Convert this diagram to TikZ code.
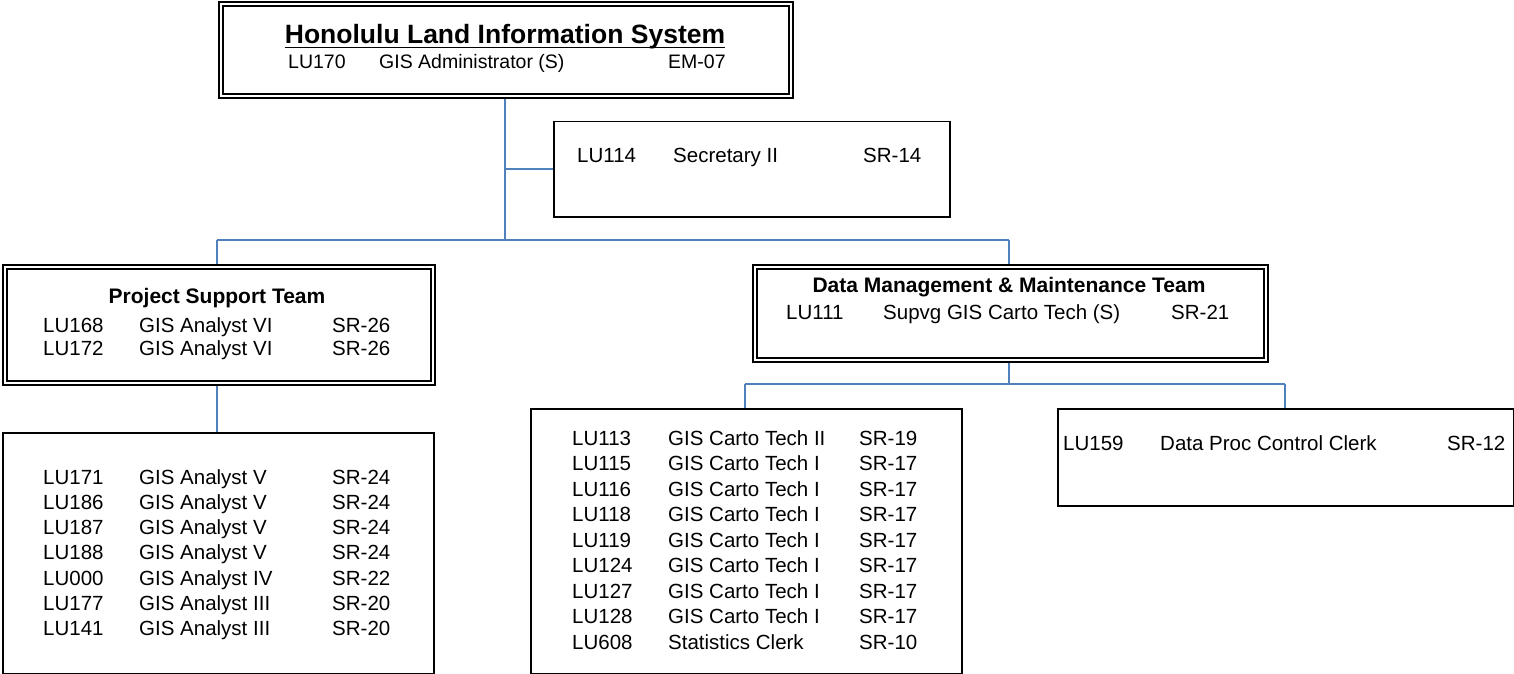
\documentclass[tikz,border=0pt]{standalone}
\usepackage{fontspec}
\setmainfont{Liberation Sans}
\definecolor{linkblue}{RGB}{79,129,189}
\newcommand\bodyfont{\fontsize{20.5}{24}\selectfont}
\newcommand\smallbodyfont{\fontsize{19.5}{23}\selectfont}
\newcommand\headfont{\fontsize{21}{25}\selectfont\bfseries}
\newcommand\bigheadfont{\fontsize{26.5}{30}\selectfont\bfseries}
\begin{document}
\begin{tikzpicture}[x=1pt,y=-1pt,
  box/.style={draw=black,line width=1.5pt,inner sep=0pt,anchor=north west},
  dbox/.style={draw=black,line width=2pt,inner sep=0pt,anchor=north west},
  innerline/.style={draw=black,line width=1.2pt},
  conn/.style={draw=linkblue,line width=1.8pt},
  txt/.style={anchor=base west,inner sep=0pt,font=\bodyfont},
  stxt/.style={anchor=base west,inner sep=0pt,font=\smallbodyfont},
  ttl/.style={anchor=base,inner sep=0pt,font=\headfont},
  bigttl/.style={anchor=base,inner sep=0pt,font=\bigheadfont}]
\useasboundingbox (0,0) rectangle (1514,674);
\fill[white] (0,0) rectangle (1514,674);

% ---------- boxes ----------
\node[dbox,minimum width=574pt,minimum height=96pt] (top) at (218,1) {};
\draw[innerline] ([shift={(5pt,-5pt)}]top.north west) rectangle ([shift={(-5pt,5pt)}]top.south east);

\node[box,minimum width=396pt,minimum height=95pt] (sec) at (553,121) {};

\node[dbox,minimum width=432pt,minimum height=120pt] (pst) at (2,264) {};
\draw[innerline] ([shift={(5pt,-5pt)}]pst.north west) rectangle ([shift={(-5pt,5pt)}]pst.south east);

\node[dbox,minimum width=515pt,minimum height=97pt] (dmm) at (752,264) {};
\draw[innerline] ([shift={(5pt,-5pt)}]dmm.north west) rectangle ([shift={(-5pt,5pt)}]dmm.south east);

\node[box,minimum width=431pt,minimum height=241pt] (psub) at (2,432) {};
\node[box,minimum width=431pt,minimum height=265pt] (dsub) at (530,408) {};
\node[box,minimum width=456pt,minimum height=97pt] (dpc) at (1057,408) {};

% ---------- connectors ----------
\coordinate (hbar) at (505,240);
\coordinate (lbar) at (1009,384);
\coordinate (hl) at (217,240);
\coordinate (hr) at (1009,240);
\coordinate (ll) at (745,384);
\coordinate (lr) at (1285,384);
\draw[conn] (top.south -| hbar) -- (hbar);
\draw[conn] (sec.west -| hbar) -- (sec.west);
\draw[conn] (hl) -- (hr);
\draw[conn] (hl) -- (hl |- pst.north);
\draw[conn] (hr) -- (hr |- dmm.north);
\draw[conn] (pst.south -| hl) -- (hl |- psub.north);
\draw[conn] (dmm.south -| lbar) -- (lbar);
\draw[conn] (ll) -- (lr);
\draw[conn] (ll) -- (ll |- dsub.north);
\draw[conn] (lr) -- (lr |- dpc.north);

% ---------- top box text ----------
\node[bigttl] (toptitle) at (505,44) {Honolulu Land Information System};
\draw[black,line width=1.8pt] ([yshift=-3.5pt]toptitle.base west) -- ([yshift=-3.5pt]toptitle.base east);
\node[stxt] (topa) at (288,69) {LU170};
\node[stxt] (topb) at (379,69) {GIS Administrator (S)};
\node[stxt] (topc) at (668,69) {EM-07};

% ---------- secretary ----------
\node[txt] (seca) at (577,162) {LU114};
\node[txt] (secb) at (673,162) {Secretary II};
\node[txt] (secc) at (863,162) {SR-14};

% ---------- project support team ----------
\node[ttl] (psttl) at (217,303) {Project Support Team};
\foreach \i/\a/\b/\c in {0/LU168/GIS Analyst VI/SR-26, 1/LU172/GIS Analyst VI/SR-26} {
  \node[txt] (pstA\i) at (43,{332+23*\i}) {\a};
  \node[txt] (pstB\i) at (139,{332+23*\i}) {\b};
  \node[txt] (pstC\i) at (332,{332+23*\i}) {\c};
}
\foreach \i/\a/\b/\c in {0/LU171/GIS Analyst V/SR-24, 1/LU186/GIS Analyst V/SR-24,
  2/LU187/GIS Analyst V/SR-24, 3/LU188/GIS Analyst V/SR-24, 4/LU000/GIS Analyst IV/SR-22,
  5/LU177/GIS Analyst III/SR-20, 6/LU141/GIS Analyst III/SR-20} {
  \node[txt] (psA\i) at (43,{484+25.3*\i}) {\a};
  \node[txt] (psB\i) at (139,{484+25.3*\i}) {\b};
  \node[txt] (psC\i) at (332,{484+25.3*\i}) {\c};
}

% ---------- data management ----------
\node[ttl] (dmttl) at (1009,292) {Data Management \& Maintenance Team};
\node[txt] (dma) at (786,319) {LU111};
\node[txt] (dmb) at (883,319) {Supvg GIS Carto Tech (S)};
\node[txt] (dmc) at (1171,319) {SR-21};

\foreach \i/\a/\b/\c in {0/LU113/GIS Carto Tech II/SR-19, 1/LU115/GIS Carto Tech I/SR-17,
  2/LU116/GIS Carto Tech I/SR-17, 3/LU118/GIS Carto Tech I/SR-17, 4/LU119/GIS Carto Tech I/SR-17,
  5/LU124/GIS Carto Tech I/SR-17, 6/LU127/GIS Carto Tech I/SR-17, 7/LU128/GIS Carto Tech I/SR-17,
  8/LU608/Statistics Clerk/SR-10} {
  \node[txt] (dsA\i) at (572,{445+25.5*\i}) {\a};
  \node[txt] (dsB\i) at (668,{445+25.5*\i}) {\b};
  \node[txt] (dsC\i) at (859,{445+25.5*\i}) {\c};
}

% ---------- data proc clerk ----------
\node[txt] (dpa) at (1063,450) {LU159};
\node[txt] (dpb) at (1160,450) {Data Proc Control Clerk};
\node[txt] (dpc2) at (1447,450) {SR-12};
\end{tikzpicture}
\end{document}
